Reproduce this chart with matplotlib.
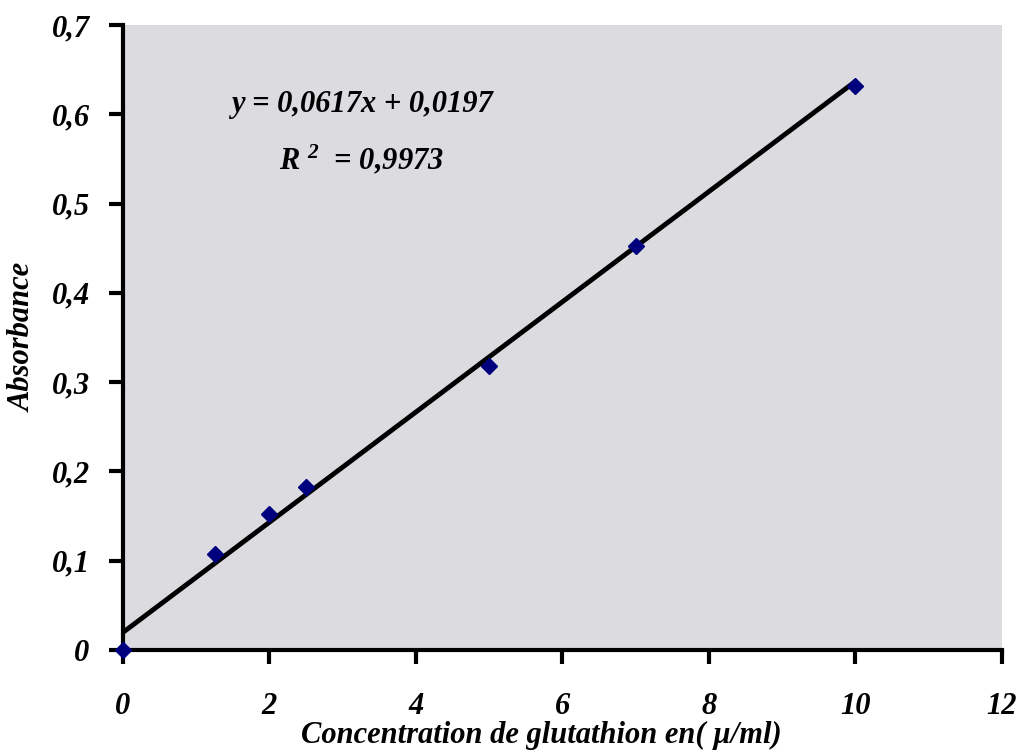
import matplotlib
matplotlib.use("Agg")
import matplotlib.pyplot as plt
import numpy as np

concentration = [0, 1.25, 2, 2.5, 5, 7, 10]
absorbance = [0.0, 0.108, 0.152, 0.183, 0.318, 0.452, 0.632]
slope = 0.0617
intercept = 0.0197
x_ticks = [0, 2, 4, 6, 8, 10, 12]
y_ticks = [0, 0.1, 0.2, 0.3, 0.4, 0.5, 0.6, 0.7]
y_tick_labels = ["0", "0,1", "0,2", "0,3", "0,4", "0,5", "0,6", "0,7"]

plt.rcParams["mathtext.fontset"] = "custom"
plt.rcParams["mathtext.rm"] = "Liberation Serif:italic:bold"
plt.rcParams["mathtext.it"] = "Liberation Serif:italic:bold"

font = dict(family="Liberation Serif", weight="bold", style="italic")

fig = plt.figure(figsize=(10.2, 7.53), dpi=100)
ax = fig.add_axes([0.1206, 0.1368, 0.982 - 0.1206, 0.9668 - 0.1368])
ax.set_facecolor("#dcdce0")

xfit = np.array([concentration[0], concentration[-1]])
ax.plot(xfit, slope * xfit + intercept, color="black", lw=3.5, zorder=3)
ax.plot(concentration, absorbance, linestyle="none", marker="D", ms=8,
        color="#00007f", zorder=4, clip_on=False)

ax.set_xlim(0, 12)
ax.set_ylim(0, 0.7)
ax.set_xticks(x_ticks)
ax.set_xticklabels([str(t) for t in x_ticks])
ax.set_yticks(y_ticks)
ax.set_yticklabels(y_tick_labels)

for s in ["top", "right"]:
    ax.spines[s].set_visible(False)
for s in ["left", "bottom"]:
    ax.spines[s].set_linewidth(3)
    ax.spines[s].set_color("black")

ax.tick_params(axis="x", direction="out", length=10, width=3, pad=20)
ax.tick_params(axis="y", direction="out", length=10, width=3, pad=14)
for lab in ax.get_xticklabels() + ax.get_yticklabels():
    lab.set_fontproperties(matplotlib.font_manager.FontProperties(size=22, **font))

ax.set_xlabel("Concentration de glutathion en( µ/ml)", fontsize=22, labelpad=0, **font)
ax.xaxis.set_label_coords(0.476, -0.114)
ax.set_ylabel("Absorbance", fontsize=22, labelpad=10, **font)

ax.text(0.272, 0.872, "y = 0,0617x + 0,0197", transform=ax.transAxes,
        ha="center", va="center", fontsize=22, **font)
ax.text(0.272, 0.784, r"R $^{\mathrm{2}}$  = 0,9973", transform=ax.transAxes,
        ha="center", va="center", fontsize=22, **font)

fig.savefig("out.png", dpi=100)
